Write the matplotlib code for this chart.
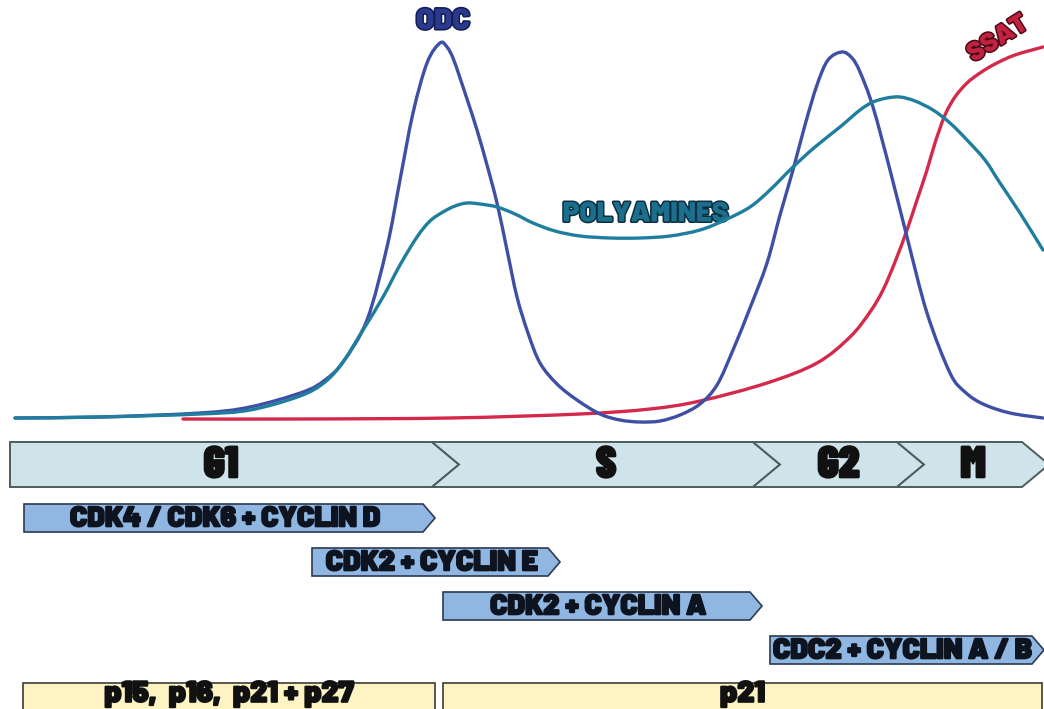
import matplotlib
matplotlib.use("Agg")
import matplotlib.pyplot as plt
from matplotlib.patches import Polygon, PathPatch
from matplotlib.path import Path
import matplotlib.patheffects as pe

# ---------------- data (pixel-like units) ----------------
odc_x = [15, 100, 200, 250, 303, 325, 343, 367, 387, 400, 413, 427, 440,
         447, 453, 460, 468, 477, 487, 497, 507, 517, 528, 540, 557, 577, 600, 620, 640,
         660, 680, 700, 717, 733, 750, 767, 780, 793, 805, 817, 828, 842, 852, 860, 873,
         890, 907, 927, 950, 965, 983, 1010, 1043]
odc_y = [418, 417, 413, 407, 392, 380, 362, 320, 247, 180, 113, 63, 43,
         47, 58, 78, 102, 130, 165, 203, 250, 297, 333, 363, 384, 400, 414, 420, 422,
         421, 415, 404, 385, 350, 308, 263, 215, 170, 125, 85, 60, 52, 58, 72, 107,
         170, 237, 313, 373, 392, 404, 413, 418]

poly_x = [15, 100, 200, 250, 300, 325, 343, 363, 383, 400, 417, 430, 443, 455, 467, 480,
          497, 515, 533, 555, 580, 610, 640, 670, 700, 725, 750, 770, 793, 815, 840, 860,
          873, 887, 900, 915, 933, 950, 967, 985, 1000, 1020, 1043]
poly_y = [418, 417, 414, 410, 396, 382, 362, 330, 297, 265, 237, 221, 212, 206, 203, 204,
          207, 214, 223, 231, 236, 238, 238, 236, 230, 220, 207, 190, 167, 147, 127, 110,
          102, 98, 97, 101, 110, 123, 140, 160, 183, 213, 250]

ssat_x = [183, 300, 450, 580, 650, 700, 767, 817, 850, 870, 883, 895, 907, 917, 927,
          935, 945, 955, 967, 980, 995, 1015, 1043]
ssat_y = [419, 419, 418, 414, 409, 401, 383, 363, 337, 312, 290, 262, 230, 200, 170,
          143, 115, 97, 83, 73, 64, 55, 47]

phases = ["G1", "S", "G2", "M"]
phase_bounds = [10, 432, 753, 897, 1022]      # top-edge x of each chevron boundary

cdk_labels = ["CDK4 / CDK6 + CYCLIN D", "CDK2 + CYCLIN E", "CDK2 + CYCLIN A",
              "CDC2 + CYCLIN A / B"]
cdk_start = [24, 312, 443, 770]
cdk_end = [423, 548, 750, 1032]

inhib_labels = ["p15,  p16,  p21 + p27", "p21"]
inhib_start = [23, 443]
inhib_end = [435, 1042]

# ---------------- helpers ----------------
def smooth_path(xs, ys):
    """Catmull-Rom curve through the given points, as cubic Bezier path."""
    pts = list(zip(xs, ys))
    verts = [pts[0]]
    codes = [Path.MOVETO]
    n = len(pts)
    for i in range(n - 1):
        p0 = pts[i - 1] if i > 0 else pts[i]
        p1 = pts[i]
        p2 = pts[i + 1]
        p3 = pts[i + 2] if i + 2 < n else pts[i + 1]
        c1 = (p1[0] + (p2[0] - p0[0]) / 6, p1[1] + (p2[1] - p0[1]) / 6)
        c2 = (p2[0] - (p3[0] - p1[0]) / 6, p2[1] - (p3[1] - p1[1]) / 6)
        verts += [c1, c2, p2]
        codes += [Path.CURVE4] * 3
    return Path(verts, codes)

# ---------------- figure ----------------
W, H = 1044, 709
fig = plt.figure(figsize=(W / 100, H / 100), dpi=100)
ax = fig.add_axes([0, 0, 1, 1])
ax.set_xlim(0, W)
ax.set_ylim(H, 0)
ax.axis("off")

WIDE = ["Barlow", "Barlow Semi Condensed", "Barlow Condensed", "DejaVu Sans"]
NARROW = ["Barlow Condensed", "DejaVu Sans"]

# curves
for xs, ys, col, z in [(ssat_x, ssat_y, "#d3294b", 3), (odc_x, odc_y, "#3f4fa5", 4),
                       (poly_x, poly_y, "#1f7e9e", 5)]:
    ax.add_patch(PathPatch(smooth_path(xs, ys), facecolor="none", edgecolor=col,
                           lw=2.4, capstyle="round", zorder=z))

# curve labels
ax.text(443, 21, "ODC", ha="center", va="center", fontsize=21, fontweight="black",
        family=WIDE, color="#2a3a8c",
        path_effects=[pe.withStroke(linewidth=2.2, foreground="#141c55")])
ax.text(646, 214, "POLYAMINES", ha="center", va="center", fontsize=20, fontweight="black",
        family=WIDE, color="#1c6f8c",
        path_effects=[pe.withStroke(linewidth=2.2, foreground="#0b2f40")])
ax.text(998, 39, "SSAT", ha="center", va="center", fontsize=19, fontweight="black",
        family=WIDE, color="#c0223f", rotation=32,
        path_effects=[pe.withStroke(linewidth=2.2, foreground="#4a0a18")])

# phase bar
top, bot = 442, 487
mid = (top + bot) / 2
d = 27
for i, name in enumerate(phases):
    x0, x1 = phase_bounds[i], phase_bounds[i + 1]
    if i == 0:
        left = [(x0, bot), (x0, top)]
    else:
        left = [(x0, bot), (x0 + d, mid), (x0, top)]
    right = [(x1, top), (x1 + d, mid), (x1, bot)]
    poly = Polygon(left + right, closed=True, facecolor="#cfe4ea", edgecolor="#4d5c5c",
                   lw=1.4, joinstyle="miter", zorder=2)
    ax.add_patch(poly)
    cx = (x0 + x1) / 2 + (d / 2 if i > 0 else 0)
    ax.text(cx, mid + 1, name, ha="center", va="center", fontsize=32, fontweight="black",
            family=NARROW, color="#111111",
            path_effects=[pe.withStroke(linewidth=1.2, foreground="#111111")], zorder=3)

# CDK / cyclin arrows
bar_h = 28
tip = 12
rows_y = [518, 562, 606, 650]
for lab, xs, xe, yc in zip(cdk_labels, cdk_start, cdk_end, rows_y):
    t, b = yc - bar_h / 2, yc + bar_h / 2
    pts = [(xs, t), (xe, t), (xe + tip, yc), (xe, b), (xs, b)]
    ax.add_patch(Polygon(pts, closed=True, facecolor="#8fb7e2", edgecolor="#2c3a52",
                         lw=1.2, zorder=2))
    ax.text((xs + xe) / 2 + 2, yc + 1, lab, ha="center", va="center", fontsize=20.5,
            fontweight="black", family=WIDE, color="#0d1420",
            path_effects=[pe.withStroke(linewidth=1.2, foreground="#0d1420")], zorder=3)

# inhibitor boxes
for lab, xs, xe in zip(inhib_labels, inhib_start, inhib_end):
    ax.add_patch(Polygon([(xs, 683), (xe, 683), (xe, 712), (xs, 712)], closed=True,
                         facecolor="#fdf3c3", edgecolor="#4a4a40", lw=1.3, zorder=2))
    ax.text((xs + xe) / 2, 694, lab, ha="center", va="center", fontsize=21.5,
            fontweight="black", family=WIDE, color="#111111",
            path_effects=[pe.withStroke(linewidth=1.2, foreground="#111111")], zorder=3)

fig.savefig("out.png", dpi=100, facecolor="white")
